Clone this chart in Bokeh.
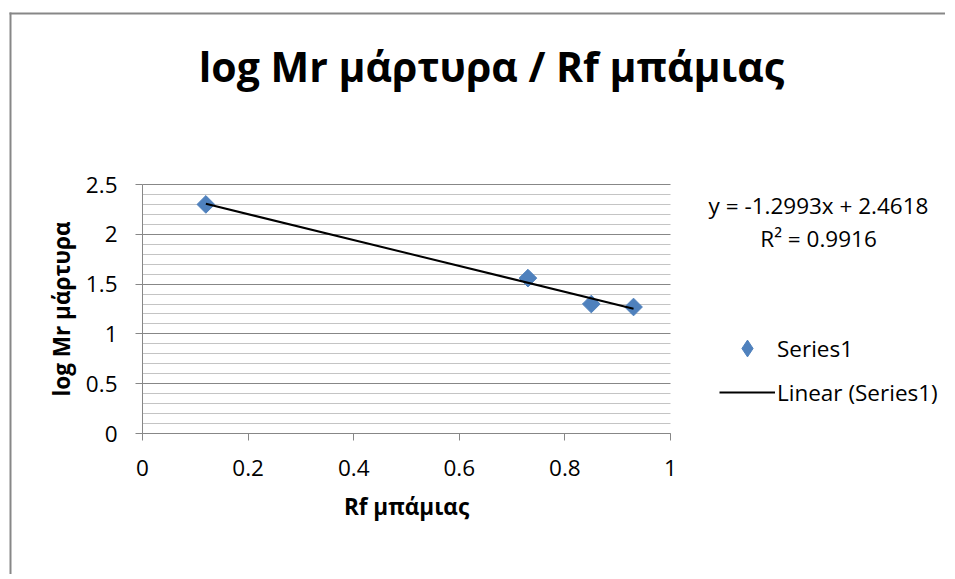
import numpy as np
from bokeh.plotting import figure
from bokeh.models import (Range1d, FixedTicker, Label, Legend, LegendItem,
                          Arrow)
from bokeh.embed import file_html
from bokeh.resources import INLINE

# ---------------- data ----------------
rf_values = [0.12, 0.73, 0.85, 0.93]
log_mr_values = [2.30, 1.56, 1.30, 1.27]

x_ticks = [0, 0.2, 0.4, 0.6, 0.8, 1.0]
x_tick_labels = ["0", "0.2", "0.4", "0.6", "0.8", "1"]
y_ticks = [0, 0.5, 1.0, 1.5, 2.0, 2.5]
y_tick_labels = ["0", "0.5", "1", "1.5", "2", "2.5"]
y_minor_ticks = [0.1, 0.2, 0.3, 0.4, 0.6, 0.7, 0.8, 0.9, 1.1, 1.2, 1.3, 1.4,
                 1.6, 1.7, 1.8, 1.9, 2.1, 2.2, 2.3, 2.4]

title_text = "log Mr μάρτυρα / Rf μπάμιας"
x_title = "Rf μπάμιας"
y_title = "log Mr μάρτυρα"
series_name = "Series1"
trend_name = "Linear (Series1)"
eq_text = "y = -1.2993x + 2.4618"
r2_text = "R² = 0.9916"

FONT = "Open Sans"
FS = "22.5px"
GRAY = "#878787"
BLUE = "#4F81BD"

# plot-area placement on the canvas (pixels)
L, R, T, B = 142, 670, 184, 433
W, H = 945, 574
X0, X1 = 0.0, 1.0
Y0, Y1 = 0.0, 2.5
kx = (R - L) / (X1 - X0)
ky = (B - T) / (Y1 - Y0)

p = figure(width=W, height=H, output_backend="svg", toolbar_location=None,
           x_range=Range1d(X0 - L / kx, X0 + (W - L) / kx),
           y_range=Range1d(Y0 - (H - B) / ky, Y0 + B / ky),
           min_border=0)
p.outline_line_color = None
p.background_fill_color = "white"
p.border_fill_color = "white"


def cx(px):
    return X0 + (px - L) / kx


def cy(py):
    return Y0 + (B - py) / ky


# chart border: top and left edges (the rest lies beyond the window)
for (xa, ya, xb, yb) in [(10, 12, 10, H), (9, 13, W, 13)]:
    p.add_layout(Arrow(x_start=cx(xa), y_start=cy(ya), x_end=cx(xb),
                       y_end=cy(yb), start=None, end=None,
                       line_color=GRAY, line_width=2, level="underlay"))

# grids
p.xgrid.visible = False
p.ygrid.ticker = FixedTicker(ticks=y_ticks, minor_ticks=y_minor_ticks)
p.ygrid.grid_line_color = GRAY
p.ygrid.grid_line_width = 1
p.ygrid.minor_grid_line_color = "#c4c4c4"
p.ygrid.minor_grid_line_width = 1
p.ygrid.bounds = (Y0, Y1)
p.ygrid.cross_bounds = (X0, X1)

# axes
for ax in (p.xaxis[0], p.yaxis[0]):
    ax.axis_line_color = GRAY
    ax.axis_line_width = 1
    ax.major_tick_line_color = GRAY
    ax.major_tick_out = 7
    ax.major_tick_in = 0
    ax.minor_tick_out = 0
    ax.minor_tick_in = 0
    ax.major_label_text_font = FONT
    ax.major_label_text_font_size = FS
    ax.major_label_text_color = "black"
    ax.axis_label_text_font = FONT
    ax.axis_label_text_font_size = FS
    ax.axis_label_text_font_style = "bold"
    ax.axis_label_text_color = "black"

p.xaxis.ticker = FixedTicker(ticks=x_ticks)
p.yaxis.ticker = FixedTicker(ticks=y_ticks, minor_ticks=y_minor_ticks)
p.xaxis.major_label_overrides = dict(zip(x_ticks, x_tick_labels))
p.yaxis.major_label_overrides = dict(zip(y_ticks, y_tick_labels))
p.xaxis.fixed_location = Y0
p.yaxis.fixed_location = X0
p.xaxis.bounds = (X0, X1)
p.yaxis.bounds = (Y0, Y1)
p.xaxis.major_label_standoff = 19
p.yaxis.major_label_standoff = 18
p.xaxis.axis_label = x_title
p.yaxis.axis_label = y_title
p.xaxis.axis_label_standoff = 12
p.yaxis.axis_label_standoff = 6

# data: a diamond-marker twin (hidden beneath) supplies the legend glyph
proxy = p.scatter(rf_values, log_mr_values, marker="diamond", size=11,
                  fill_color=BLUE, line_color=BLUE)
sc = p.scatter(rf_values, log_mr_values, marker="square", angle=np.pi / 4,
               size=12.5, fill_color=BLUE, line_color=BLUE)
slope, intercept = np.polyfit(rf_values, log_mr_values, 1)
xs = [min(rf_values), max(rf_values)]
ys = [slope * v + intercept for v in xs]
ln = p.line(xs, ys, line_color="black", line_width=2)

legend = Legend(items=[LegendItem(label=series_name, renderers=[proxy]),
                       LegendItem(label=trend_name, renderers=[ln])],
                location=(719, H - 413),
                glyph_width=56, glyph_height=42, label_height=42,
                spacing=2, padding=0, margin=0, label_standoff=2,
                border_line_color=None, background_fill_alpha=0,
                label_text_font=FONT, label_text_font_size=FS,
                label_text_color="black", label_text_baseline="middle")
p.add_layout(legend)

# title and trendline equation
p.add_layout(Label(x=cx(491), y=cy(65), text=title_text, text_align="center",
                   text_baseline="middle", text_font=FONT,
                   text_font_size="41px", text_font_style="bold",
                   text_color="black"))
p.add_layout(Label(x=cx(818), y=cy(205), text=eq_text, text_align="center",
                   text_baseline="middle", text_font=FONT, text_font_size=FS,
                   text_color="black"))
p.add_layout(Label(x=cx(818), y=cy(238), text=r2_text, text_align="center",
                   text_baseline="middle", text_font=FONT, text_font_size=FS,
                   text_color="black"))

open("out.html", "w").write(file_html(p, INLINE))
